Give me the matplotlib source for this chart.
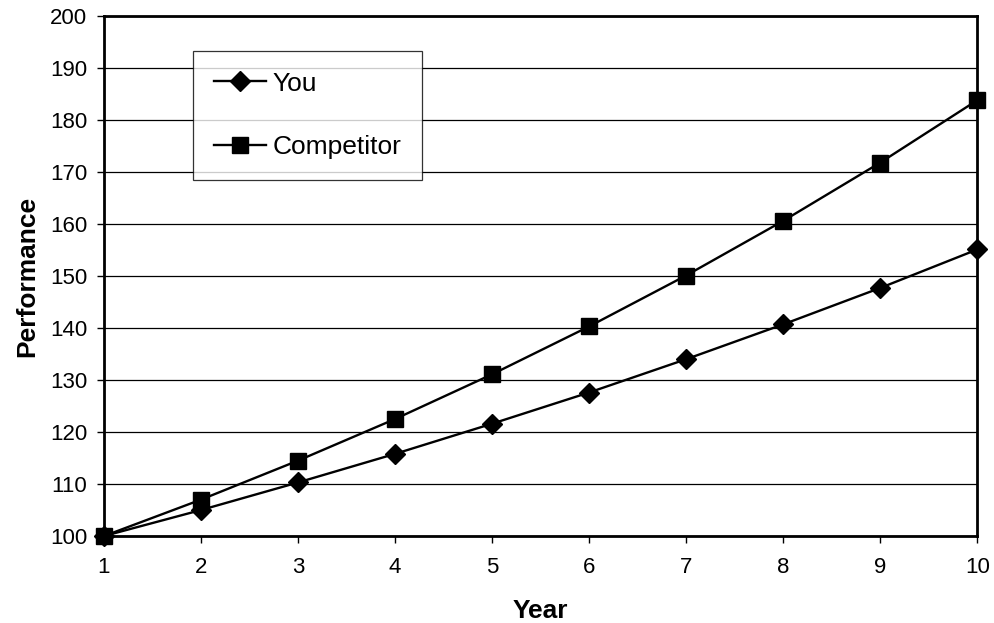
import matplotlib.pyplot as plt

plt.rcParams['font.family'] = ['Liberation Sans', 'DejaVu Sans']

years = [1, 2, 3, 4, 5, 6, 7, 8, 9, 10]
you = [100, 105, 110.3, 115.8, 121.6, 127.6, 134.0, 140.7, 147.7, 155.1]
competitor = [100, 107, 114.5, 122.5, 131.1, 140.3, 150.1, 160.6, 171.8, 183.8]
y_ticks = [100, 110, 120, 130, 140, 150, 160, 170, 180, 190, 200]

fig = plt.figure(figsize=(9.94, 6.23), dpi=100)
ax = fig.add_axes([0.1046, 0.1396, 0.8785, 0.8347])

ax.plot(years, you, color='black', lw=1.7, marker='D', markersize=10, label='You', clip_on=False, zorder=3)
ax.plot(years, competitor, color='black', lw=1.7, marker='s', markersize=11, label='Competitor', clip_on=False, zorder=3)

ax.set_xlim(1, 10)
ax.set_ylim(100, 200)
ax.set_xticks(years)
ax.set_yticks(y_ticks)
ax.yaxis.grid(True, color='black', lw=0.9)
ax.set_axisbelow(True)

for s in ax.spines.values():
    s.set_linewidth(2)
ax.tick_params(axis='both', labelsize=16, length=5, width=1, direction='out', colors='black')
ax.tick_params(axis='x', pad=10)
ax.tick_params(axis='y', pad=7)

ax.set_xlabel('Year', fontsize=19, fontweight='bold', labelpad=15)
ax.set_ylabel('Performance', fontsize=19, fontweight='bold', labelpad=8)

leg = ax.legend(loc='upper left', bbox_to_anchor=(0.102, 0.9327), fontsize=19, frameon=True,
                fancybox=False, edgecolor='black', borderpad=0.78, labelspacing=1.5,
                handlelength=2.0, handletextpad=0.22, borderaxespad=0)
leg.get_frame().set_linewidth(0.9)

plt.savefig('out.png', dpi=100)
